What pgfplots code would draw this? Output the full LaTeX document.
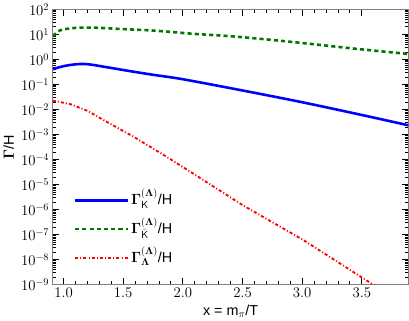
\documentclass[border=0pt]{standalone}
\usepackage[no-math]{fontspec}
\setsansfont{Liberation Sans}
\usepackage{pgfplots}
\pgfplotsset{compat=1.18}
\begin{document}
\begin{tikzpicture}
\begin{axis}[
    scale only axis,
    width=345bp, height=267bp,
    ymode=log,
    xmin=0.91, xmax=3.89,
    ymin=1e-9, ymax=1e2,
    xtick={1.0,1.5,2.0,2.5,3.0,3.5},
    minor x tick num=4,
    ytick={1e-9,1e-8,1e-7,1e-6,1e-5,1e-4,1e-3,1e-2,1e-1,1e0,1e1,1e2},
    xticklabel style={/pgf/number format/.cd, fixed, fixed zerofill, precision=1},
    tick label style={font=\fontsize{14}{16}\selectfont},
    axis line style={draw=gray, line width=1.2bp},
    major tick style={black, line width=1bp},
    minor tick style={black, line width=0.8bp},
    major tick length=6bp,
    minor tick length=3.5bp,
    xlabel={\sffamily x = m$_\pi$/T},
    ylabel={$\mathbf{\Gamma}$\sffamily /H},
    label style={font=\fontsize{14}{16}\selectfont},
    legend cell align=left,
    legend style={draw=none, fill=none, at={(0.05,0.055)}, anchor=south west,
        font=\fontsize{14}{16}\selectfont, row sep=10bp,
        nodes={text height=11bp, text depth=3bp}},
    legend image code/.code={\draw[#1] (0bp,0bp) -- (51bp,0bp);},
]
% K
\addplot[blue, line width=2.5bp, smooth] coordinates {
    (0.91,0.407) (0.95,0.468) (1.0,0.537) (1.05,0.596) (1.1,0.638) (1.15,0.661)
    (1.2,0.646) (1.25,0.603) (1.3,0.550) (1.4,0.457) (1.5,0.380) (1.6,0.316)
    (1.76,0.240) (2.0,0.162) (2.5,0.0575) (3.0,0.0195) (3.5,0.00603) (3.89,0.00234)
};
\addlegendentry{$\mathbf{\Gamma}^{(\mathbf{\Lambda})}_{\mathsf{K}}$\sffamily /H}
% Kbar
\addplot[color={rgb,255:red,0;green,120;blue,0}, line width=2.5bp, dash pattern=on 4bp off 3bp, smooth] coordinates {
    (0.91,8.7) (0.94,11.5) (0.97,14.5) (1.0,16.0) (1.1,18.2) (1.2,18.8) (1.3,18.3)
    (1.47,16.6) (1.73,14.5) (1.9,12.6) (2.1,10.5) (2.44,8.2) (2.9,5.1)
    (3.44,2.7) (3.89,1.66)
};
\addlegendentry{$\mathbf{\Gamma}^{(\mathbf{\Lambda})}_{\bar{\mathsf{K}}}$\sffamily /H}
% Lambda
\addplot[red, line width=1.8bp, dash pattern=on 3bp off 2bp on 1bp off 2bp] coordinates {
    (0.91,0.0224) (0.95,0.0209) (1.06,0.0162) (1.2,0.0089) (1.32,0.00417)
    (1.58,8.5e-4) (1.82,1.74e-4) (2.07,3.09e-5) (2.5,1.51e-6)
    (3.0,6.46e-8) (3.585,1.07e-9) (3.7,5e-10)
};
\addlegendentry{$\mathbf{\Gamma}^{(\mathbf{\Lambda})}_{\mathbf{\Lambda}}$\sffamily /H}
\end{axis}
\end{tikzpicture}
\end{document}
